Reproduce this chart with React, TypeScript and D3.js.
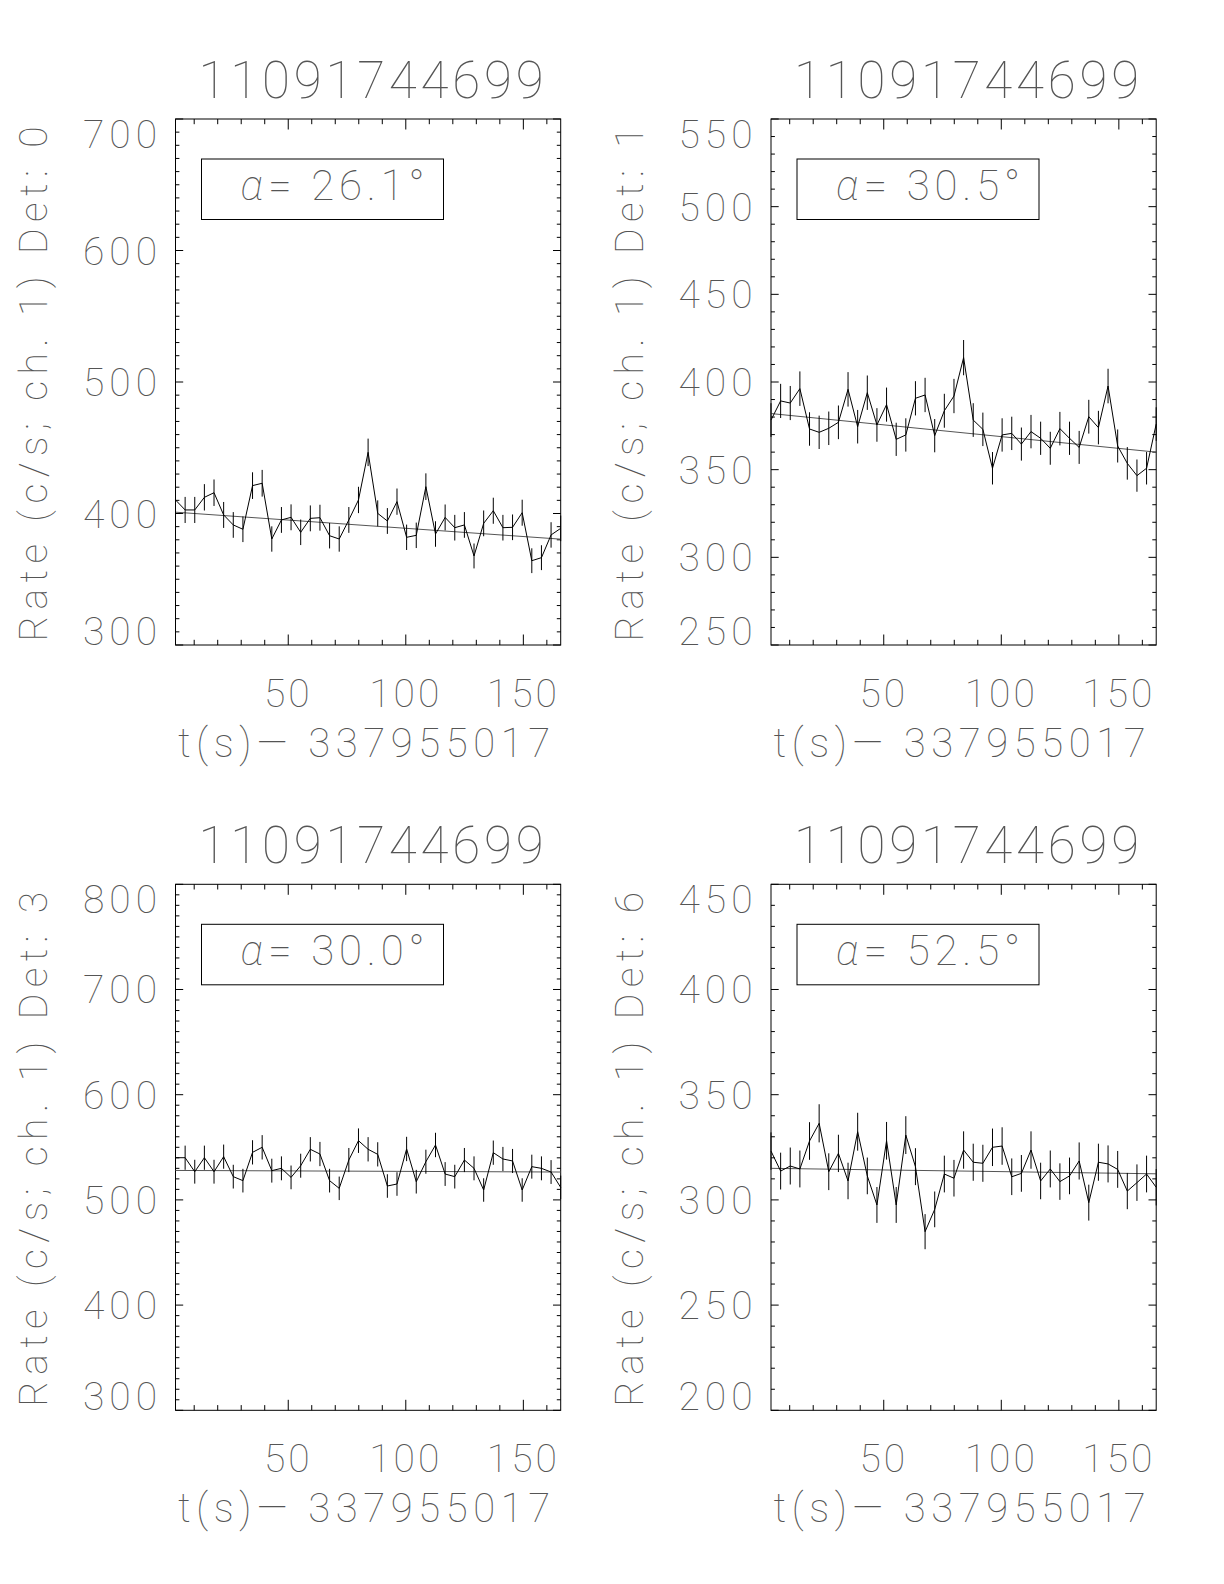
import React from "react";
import * as d3 from "d3";

// ---- data ----
const times = [
  2.048, 6.144, 10.24, 14.336, 18.432, 22.528, 26.624, 30.72, 34.816, 38.912,
  43.008, 47.104, 51.2, 55.296, 59.392, 63.488, 67.584, 71.68, 75.776, 79.872,
  83.968, 88.064, 92.16, 96.256, 100.352, 104.448, 108.544, 112.64, 116.736, 120.832,
  124.928, 129.024, 133.12, 137.216, 141.312, 145.408, 149.504, 153.6, 157.696, 161.792,
  165.888,
];
const binWidth = 4.096;

const det0Rates = [
  410.3, 402.7, 402.7, 412.3, 415.8, 398.9, 391.3, 388.0, 421.2, 423.0,
  380.6, 395.1, 397.1, 385.7, 396.3, 396.8, 383.1, 380.6, 395.1, 410.3,
  446.5, 400.1, 394.3, 409.0, 381.9, 383.4, 420.4, 384.4, 397.0, 389.2,
  391.3, 367.7, 392.5, 402.1, 389.2, 389.5, 400.6, 364.1, 366.4, 383.7,
  388.7,
];
const det1Rates = [
  378.3, 389.2, 388.0, 396.2, 373.2, 371.3, 373.6, 377.0, 395.8, 374.5,
  393.9, 375.5, 387.1, 367.3, 369.8, 390.7, 392.6, 369.4, 383.6, 392.0,
  413.9, 378.3, 373.0, 350.8, 369.8, 370.7, 364.6, 371.7, 367.9, 362.2,
  373.4, 367.9, 362.7, 380.2, 374.0, 397.7, 363.5, 353.6, 346.6, 350.8,
  376.0,
];
const det3Rates = [
  540.1, 540.1, 526.8, 540.1, 526.8, 541.1, 522.1, 518.3, 545.2, 550.0,
  527.8, 530.0, 521.4, 532.5, 548.1, 543.6, 518.3, 511.0, 537.9, 556.3,
  548.1, 543.3, 513.2, 515.1, 548.4, 517.3, 536.3, 552.2, 524.6, 522.1,
  537.9, 530.0, 509.4, 544.9, 538.9, 537.0, 509.4, 531.6, 530.0, 526.5,
  511.9,
];
const det6Rates = [
  323.2, 313.7, 316.1, 314.7, 328.0, 336.4, 313.4, 322.1, 309.0, 332.4,
  311.4, 297.6, 328.1, 297.6, 330.8, 315.8, 284.9, 295.5, 312.3, 310.3,
  323.7, 317.9, 317.4, 325.0, 325.6, 311.0, 312.6, 323.7, 309.0, 314.7,
  308.7, 311.4, 318.5, 298.7, 317.9, 317.1, 314.5, 304.2, 308.2, 312.3,
  306.0,
];
const rateSeries = [det0Rates, det1Rates, det3Rates, det6Rates];
const detectorIds = ["0", "1", "3", "6"];
const alphaValues = ["26.1", "30.5", "30.0", "52.5"];
const yDomains: [number, number][] = [
  [300, 700],
  [250, 550],
  [300, 800],
  [200, 450],
];
const yMajorSteps = [100, 50, 100, 50];
const fitStart = [401, 382, 528, 315];
const fitEnd = [380.5, 360, 526.5, 312.4];
const xMajorTicks = [50, 100, 150];
const obsId = "11091744699";
const timeOffset = "337955017";

// ---- layout ----
const colLefts = [175.5, 771];
const rowTops = [119, 884.3];
const W = 385.2;
const H = 526;
const FONT = "Roboto, 'DejaVu Sans', sans-serif";
const TXT = "#555";

function Panel({ idx }: { idx: number }) {
  const left = colLefts[idx % 2];
  const top = rowTops[Math.floor(idx / 2)];
  const rates = rateSeries[idx];
  const [y0, y1] = yDomains[idx];
  const x = d3.scaleLinear().domain([times[0], times[times.length - 1]]).range([0, W]);
  const y = d3.scaleLinear().domain([y0, y1]).range([H, 0]);

  const xMinor = x.ticks(16).filter((v) => !xMajorTicks.includes(v));
  const yMajor = d3.range(y0, y1 + 0.001, yMajorSteps[idx]);
  const yMinor = d3.range(y0, y1 + 0.001, 10).filter((v) => !yMajor.includes(v));

  const xMajLen = 10.5, xMinLen = 5.2, yMajLen = 7.7, yMinLen = 3.9;

  const pts = times.map((t, i) => [t, rates[i]] as [number, number]);
  const line = d3.line<[number, number]>().x((d) => x(d[0])).y((d) => y(d[1]));

  return (
    <g transform={`translate(${left},${top})`}>
      {/* title */}
      <text x={W / 2 + 3} y={-21} textAnchor="middle" fontSize={51} textLength={345}
        lengthAdjust="spacing" fill={TXT} fontWeight={100} fontFamily={FONT}>{obsId}</text>
      {/* frame */}
      <rect x={0} y={0} width={W} height={H} fill="none" stroke="#000" strokeWidth={1} />
      {/* x ticks */}
      {xMajorTicks.map((v) => (
        <g key={"xM" + v}>
          <line x1={x(v)} x2={x(v)} y1={H} y2={H - xMajLen} stroke="#000" />
          <line x1={x(v)} x2={x(v)} y1={0} y2={xMajLen} stroke="#000" />
          <text x={x(v)} y={H + 62} textAnchor="middle" fontSize={39} letterSpacing={3}
            fill={TXT} fontWeight={100} fontFamily={FONT}>{v}</text>
        </g>
      ))}
      {xMinor.map((v) => (
        <g key={"xm" + v}>
          <line x1={x(v)} x2={x(v)} y1={H} y2={H - xMinLen} stroke="#000" />
          <line x1={x(v)} x2={x(v)} y1={0} y2={xMinLen} stroke="#000" />
        </g>
      ))}
      {/* y ticks */}
      {yMajor.map((v, k) => {
        const yy = y(v);
        let base = yy + 14;
        if (k === yMajor.length - 1) base = yy + 28.5;
        if (k === 0) base = yy;
        return (
          <g key={"yM" + v}>
            <line x1={0} x2={yMajLen} y1={yy} y2={yy} stroke="#000" />
            <line x1={W} x2={W - yMajLen} y1={yy} y2={yy} stroke="#000" />
            <text x={-18.5} y={base} textAnchor="end" fontSize={39} textLength={74}
              lengthAdjust="spacing" fill={TXT} fontWeight={100} fontFamily={FONT}>{v}</text>
          </g>
        );
      })}
      {yMinor.map((v) => (
        <g key={"ym" + v}>
          <line x1={0} x2={yMinLen} y1={y(v)} y2={y(v)} stroke="#000" />
          <line x1={W} x2={W - yMinLen} y1={y(v)} y2={y(v)} stroke="#000" />
        </g>
      ))}
      {/* axis titles */}
      <text x={W / 2 - 4} y={H + 112} textAnchor="middle" fontSize={40} textLength={372}
        lengthAdjust="spacing" fill={TXT} fontWeight={100} fontFamily={FONT}>
        {`t(s)\u2014 ${timeOffset}`}
      </text>
      <text transform={`translate(${-128.5},${H / 2 + 2}) rotate(-90)`} textAnchor="middle"
        fontSize={39} textLength={515} lengthAdjust="spacing" fill={TXT} fontWeight={100}
        fontFamily={FONT}>{`Rate (c/s; ch. 1) Det: ${detectorIds[idx]}`}</text>
      {/* legend box */}
      <rect x={26} y={40} width={242} height={60.5} fill="none" stroke="#000" strokeWidth={1} />
      <text x={65} y={81} fontSize={42} textLength={184} lengthAdjust="spacing" fill={TXT}
        fontWeight={100} fontFamily={FONT}>
        <tspan fontStyle="italic">α</tspan>
        {`= ${alphaValues[idx]}°`}
      </text>
      {/* fit line */}
      <line x1={x(times[0])} x2={x(times[times.length - 1])} y1={y(fitStart[idx])}
        y2={y(fitEnd[idx])} stroke="#555" strokeWidth={1} />
      {/* error bars */}
      {pts.map(([t, r], i) => {
        const e = Math.sqrt(r / binWidth);
        return (
          <line key={"e" + i} x1={x(t)} x2={x(t)} y1={y(r - e)} y2={y(r + e)} stroke="#000" strokeWidth={1} />
        );
      })}
      {/* data line */}
      <path d={line(pts) || ""} fill="none" stroke="#000" strokeWidth={1} />
    </g>
  );
}

export default function App() {
  return (
    <svg width={1224} height={1584} style={{ position: "absolute", left: 0, top: 0, background: "#fff" }}>
      <rect x={0} y={0} width={1224} height={1584} fill="#fff" />
      {[0, 1, 2, 3].map((i) => (
        <Panel key={i} idx={i} />
      ))}
    </svg>
  );
}
